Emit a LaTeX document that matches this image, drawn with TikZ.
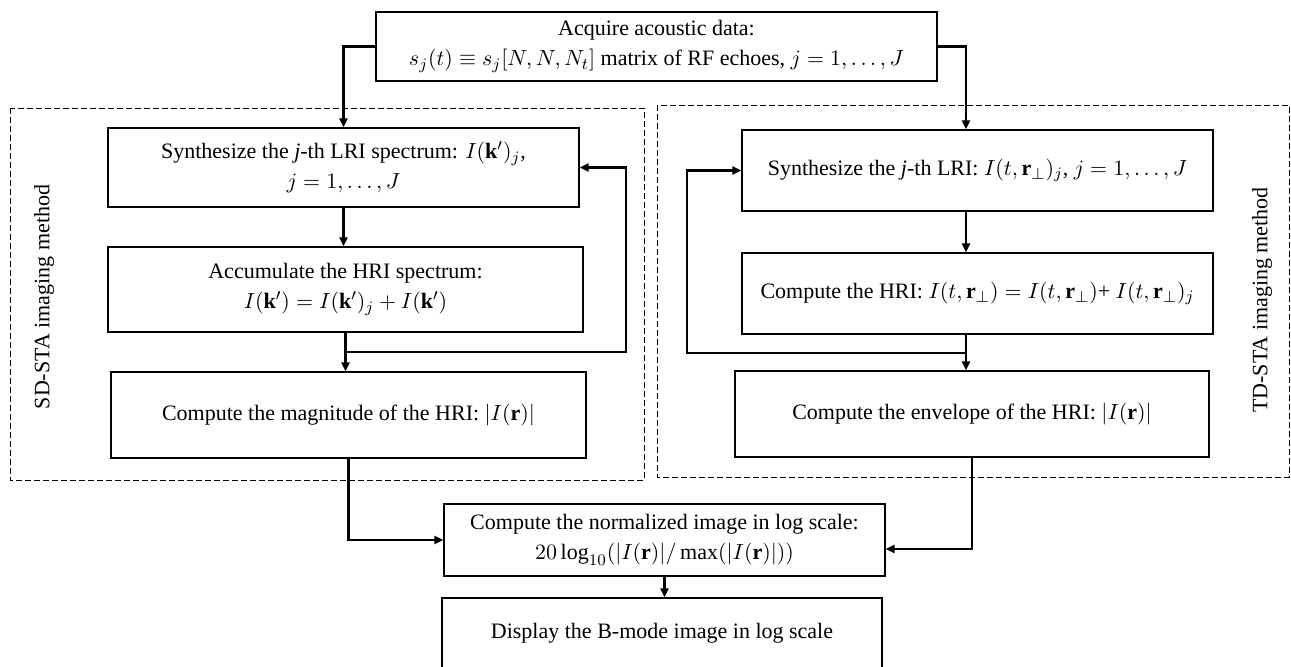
\documentclass[tikz,border=0pt]{standalone}
\usepackage{fontspec}
\setmainfont{Liberation Serif}
\usetikzlibrary{arrows.meta}

\begin{document}
\begin{tikzpicture}[
  x=0.5pt, y=-0.5pt,
  every node/.style={align=center, font=\fontsize{11}{15}\selectfont},
  box/.style={draw, line width=0.65pt, inner sep=0pt},
  frame/.style={draw, line width=0.5pt, dash pattern=on 3pt off 1.5pt},
  flow/.style={-{Triangle[length=4.5pt,width=4pt]}, line width=1.3pt}]

\useasboundingbox (0,0) rectangle (1291,666);

% Dashed frames round the two imaging methods
\draw[frame] (10,108) rectangle (644,480);
\draw[frame] (657,105) rectangle (1289,477);
\node[rotate=90] (sdLabel) at (44,297) {SD-STA imaging method};
\node[rotate=90] (tdLabel) at (1262,300) {TD-STA imaging method};

% Position the nodes
\node[box, minimum width=280.5pt, minimum height=34.5pt] (acquire) at (656.5,46.5)
  {Acquire acoustic data:\\ $s_j(t)\equiv s_j[N,N,N_t]$ matrix of RF echoes, $j=1,\ldots,J$};

\node[box, minimum width=235.5pt, minimum height=39.5pt] (sdSynth) at (343.5,167.5)
  {Synthesize the \textit{j}-th LRI spectrum: $I(\mathbf{k}')_j$,\\ $j=1,\ldots,J$};
\node[box, minimum width=237.5pt, minimum height=42.5pt] (sdAccum) at (345.5,289.5)
  {Accumulate the HRI spectrum:\\ $I(\mathbf{k}')=I(\mathbf{k}')_j+I(\mathbf{k}')$};
\node[box, minimum width=237.5pt, minimum height=43pt] (sdMag) at (348.5,415)
  {Compute the magnitude of the HRI: $|I(\mathbf{r})|$};

\node[box, minimum width=235.5pt, minimum height=40.5pt] (tdSynth) at (977.5,170.5)
  {Synthesize the \textit{j}-th LRI: $I(t,\mathbf{r}_\perp)_j$, $j=1,\ldots,J$};
\node[box, minimum width=235.5pt, minimum height=40.5pt] (tdHri) at (977.5,293.5)
  {Compute the HRI: $I(t,\mathbf{r}_\perp)=I(t,\mathbf{r}_\perp)$+ $I(t,\mathbf{r}_\perp)_j$};
\node[box, minimum width=237pt, minimum height=43pt] (tdEnv) at (972,414)
  {Compute the envelope of the HRI: $|I(\mathbf{r})|$};

\node[box, minimum width=220.5pt, minimum height=36pt] (normalize) at (664.5,540)
  {Compute the normalized image in log scale:\\ $20\log_{10}(|I(\mathbf{r})|/\max(|I(\mathbf{r})|))$};
\node[box, minimum width=220pt, minimum height=35pt] (display) at (662,633)
  {Display the B-mode image in log scale};

\coordinate (sdLoop) at (626,352);
\coordinate (tdLoop) at (687,353);
\coordinate (tdTrunk) at (966,0);

% Draw the arrows between the nodes
\draw[flow] (acquire.west) -| (sdSynth.north);
\draw[flow] (acquire.east) -| (tdTrunk |- tdSynth.north);
\draw[flow] (sdSynth.south) -- (sdSynth.south |- sdAccum.north);
\draw[flow] (sdAccum.south) -- (sdAccum.south |- sdMag.north);
\draw[flow] (sdAccum.south |- sdLoop) -- (sdLoop) |- (sdSynth.east);
\draw[flow] (tdTrunk |- tdSynth.south) -- (tdTrunk |- tdHri.north);
\draw[flow] (tdTrunk |- tdHri.south) -- (tdTrunk |- tdEnv.north);
\draw[flow] (tdTrunk |- tdLoop) -- (tdLoop) |- (tdSynth.west);
\draw[flow] (sdMag.south) |- (normalize.west);
\draw[flow] (tdEnv.south) |- ([yshift=-4.5pt]normalize.east);
\draw[flow] (normalize.south) -- (normalize.south |- display.north);

\end{tikzpicture}
\end{document}
